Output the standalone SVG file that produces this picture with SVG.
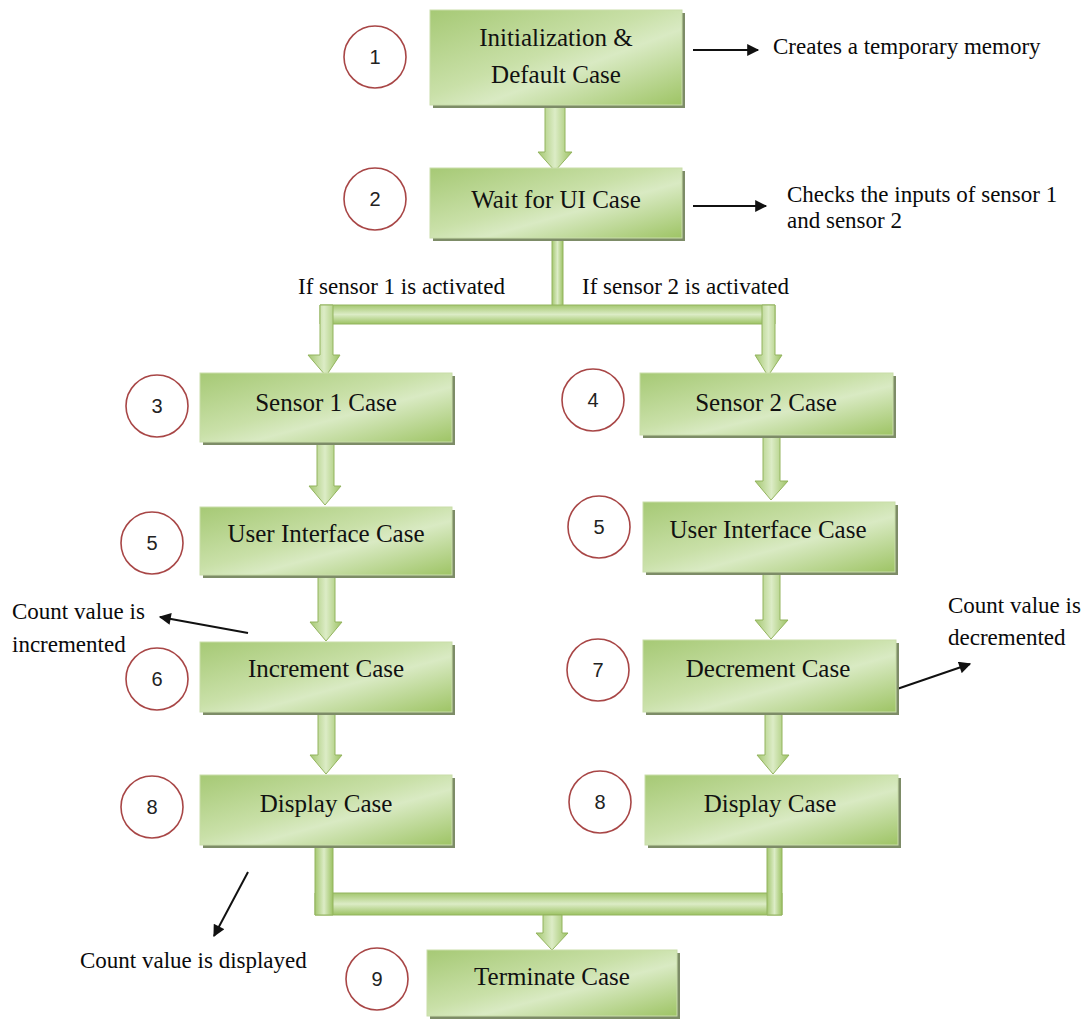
<svg xmlns="http://www.w3.org/2000/svg" width="1086" height="1021" viewBox="0 0 1086 1021">
<defs>
<style>
.box{fill:url(#boxg);stroke:#c9ddaa;stroke-width:1}
.shadow{fill:#7d8c67}
.bt{font-family:"Liberation Serif","Times New Roman",serif;font-size:25px;fill:#111;text-anchor:middle}
.ann{font-family:"Liberation Serif","Times New Roman",serif;font-size:23px;fill:#0a0a0a}
.num{fill:#fff;stroke:#a84646;stroke-width:1.6}
.nt{font-family:"Liberation Sans",Arial,sans-serif;font-size:20px;fill:#222;text-anchor:middle}
.va{fill:url(#vg);stroke:#93b45e;stroke-width:1}
.ha{fill:url(#hg);stroke:#93b45e;stroke-width:1}
.ln{stroke:#111;stroke-width:2;fill:none;marker-end:url(#ah)}
</style>
<linearGradient id="boxg" x1="0" y1="0" x2="1" y2="1">
<stop offset="0" stop-color="#a6c975"/>
<stop offset="0.45" stop-color="#c9e0a8"/>
<stop offset="0.6" stop-color="#d9eac3"/>
<stop offset="1" stop-color="#9ec465"/>
</linearGradient>
<linearGradient id="vg" x1="0" y1="0" x2="1" y2="0">
<stop offset="0" stop-color="#a4c770"/>
<stop offset="0.5" stop-color="#dcecc6"/>
<stop offset="1" stop-color="#9cc263"/>
</linearGradient>
<linearGradient id="hg" x1="0" y1="0" x2="0" y2="1">
<stop offset="0" stop-color="#a4c770"/>
<stop offset="0.5" stop-color="#dcecc6"/>
<stop offset="1" stop-color="#9cc263"/>
</linearGradient>
<marker id="ah" viewBox="0 0 10 10" refX="9" refY="5" markerWidth="6.5" markerHeight="6" orient="auto" markerUnits="strokeWidth">
<path d="M0,0 L10,5 L0,10 Z" fill="#111"/>
</marker>
</defs>
<rect width="1086" height="1021" fill="#fff"/>

<g id="connectors">
<path class="va" d="M545,106 L565,106 L565,152 L572,152 L555,171 L538,152 L545,152 Z"/>
<path class="va" d="M552,239 L563,239 L563,306 L552,306 Z"/>
<path class="ha" d="M320,305 L775,305 L775,324 L320,324 Z"/>
<path class="va" d="M320,305 L333,305 L333,355 L340,355 L326,376 L308,355 L320,355 Z"/>
<path class="va" d="M762,305 L775,305 L775,355 L782,355 L768,376 L755,355 L762,355 Z"/>
<path class="va" d="M317,443 L334,443 L334,486 L341,486 L325,505 L309,486 L317,486 Z"/>
<path class="va" d="M763,436 L780,436 L780,481 L788,481 L771,500 L755,481 L763,481 Z"/>
<path class="va" d="M318,576 L335,576 L335,622 L342,622 L326,641 L310,622 L318,622 Z"/>
<path class="va" d="M763,573 L780,573 L780,620 L788,620 L771,639 L755,620 L763,620 Z"/>
<path class="va" d="M318,713 L335,713 L335,755 L342,755 L326,774 L310,755 L318,755 Z"/>
<path class="va" d="M765,713 L782,713 L782,755 L789,755 L773,774 L757,755 L765,755 Z"/>
<path class="ha" d="M315,893 L782,893 L782,915 L315,915 Z"/>
<path class="va" d="M315,846 L333,846 L333,915 L315,915 Z"/>
<path class="va" d="M767,846 L782,846 L782,915 L767,915 Z"/>
<path class="va" d="M543,915 L562,915 L562,933 L568,933 L552,950 L536,933 L543,933 Z"/>
<line class="ln" x1="693" y1="50" x2="758" y2="50"/>
<line class="ln" x1="693" y1="206" x2="766" y2="206"/>
<line class="ln" x1="248" y1="633" x2="160" y2="617"/>
<line class="ln" x1="897" y1="689" x2="970" y2="664"/>
<line class="ln" x1="248" y1="872" x2="214" y2="936"/>
</g>

<g id="node-1">
<rect class="shadow" x="433" y="13" width="252" height="95"/>
<rect class="box" x="430" y="10" width="252" height="95"/>
<text class="bt" x="556" y="46">Initialization &amp;</text>
<text class="bt" x="556" y="83">Default Case</text>
<circle class="num" cx="375" cy="57" r="31"/>
<text class="nt" x="375" y="64">1</text>
</g>
<g id="node-2">
<rect class="shadow" x="433" y="171" width="252" height="70"/>
<rect class="box" x="430" y="168" width="252" height="70"/>
<text class="bt" x="556" y="208">Wait for UI Case</text>
<circle class="num" cx="375" cy="199" r="31"/>
<text class="nt" x="375" y="206">2</text>
</g>
<g id="node-3">
<rect class="shadow" x="203" y="376" width="252" height="69"/>
<rect class="box" x="200" y="373" width="252" height="69"/>
<text class="bt" x="326" y="411">Sensor 1 Case</text>
<circle class="num" cx="157" cy="406" r="31"/>
<text class="nt" x="157" y="413">3</text>
</g>
<g id="node-4">
<rect class="shadow" x="643" y="376" width="253" height="62"/>
<rect class="box" x="640" y="373" width="253" height="62"/>
<text class="bt" x="766" y="411">Sensor 2 Case</text>
<circle class="num" cx="593" cy="400" r="31"/>
<text class="nt" x="593" y="407">4</text>
</g>
<g id="node-5a">
<rect class="shadow" x="203" y="510" width="252" height="68"/>
<rect class="box" x="200" y="507" width="252" height="68"/>
<text class="bt" x="326" y="542">User Interface Case</text>
<circle class="num" cx="152" cy="543" r="31"/>
<text class="nt" x="152" y="550">5</text>
</g>
<g id="node-5b">
<rect class="shadow" x="646" y="505" width="252" height="70"/>
<rect class="box" x="643" y="502" width="252" height="70"/>
<text class="bt" x="768" y="538">User Interface Case</text>
<circle class="num" cx="599" cy="527" r="31"/>
<text class="nt" x="599" y="534">5</text>
</g>
<g id="node-6">
<rect class="shadow" x="203" y="645" width="252" height="70"/>
<rect class="box" x="200" y="642" width="252" height="70"/>
<text class="bt" x="326" y="677">Increment Case</text>
<circle class="num" cx="157" cy="679" r="31"/>
<text class="nt" x="157" y="686">6</text>
</g>
<g id="node-7">
<rect class="shadow" x="646" y="643" width="253" height="72"/>
<rect class="box" x="643" y="640" width="253" height="72"/>
<text class="bt" x="768" y="677">Decrement Case</text>
<circle class="num" cx="598" cy="670" r="31"/>
<text class="nt" x="598" y="677">7</text>
</g>
<g id="node-8a">
<rect class="shadow" x="203" y="778" width="252" height="70"/>
<rect class="box" x="200" y="775" width="252" height="70"/>
<text class="bt" x="326" y="812">Display Case</text>
<circle class="num" cx="152" cy="807" r="31"/>
<text class="nt" x="152" y="814">8</text>
</g>
<g id="node-8b">
<rect class="shadow" x="648" y="778" width="253" height="70"/>
<rect class="box" x="645" y="775" width="253" height="70"/>
<text class="bt" x="770" y="812">Display Case</text>
<circle class="num" cx="600" cy="802" r="31"/>
<text class="nt" x="600" y="809">8</text>
</g>
<g id="node-9">
<rect class="shadow" x="430" y="953" width="250" height="66"/>
<rect class="box" x="427" y="950" width="250" height="66"/>
<text class="bt" x="552" y="985">Terminate Case</text>
<circle class="num" cx="377" cy="979" r="31"/>
<text class="nt" x="377" y="986">9</text>
</g>

<g id="annotations">
<text class="ann" x="773" y="54">Creates a temporary memory</text>
<text class="ann" x="787" y="202">Checks the inputs of sensor 1</text>
<text class="ann" x="787" y="228">and sensor 2</text>
<text class="ann" x="298" y="294">If sensor 1 is activated</text>
<text class="ann" x="582" y="294">If sensor 2 is activated</text>
<text class="ann" x="12" y="619">Count value is</text>
<text class="ann" x="12" y="652">incremented</text>
<text class="ann" x="948" y="613">Count value is</text>
<text class="ann" x="948" y="645">decremented</text>
<text class="ann" x="80" y="968">Count value is displayed</text>
</g>
</svg>
